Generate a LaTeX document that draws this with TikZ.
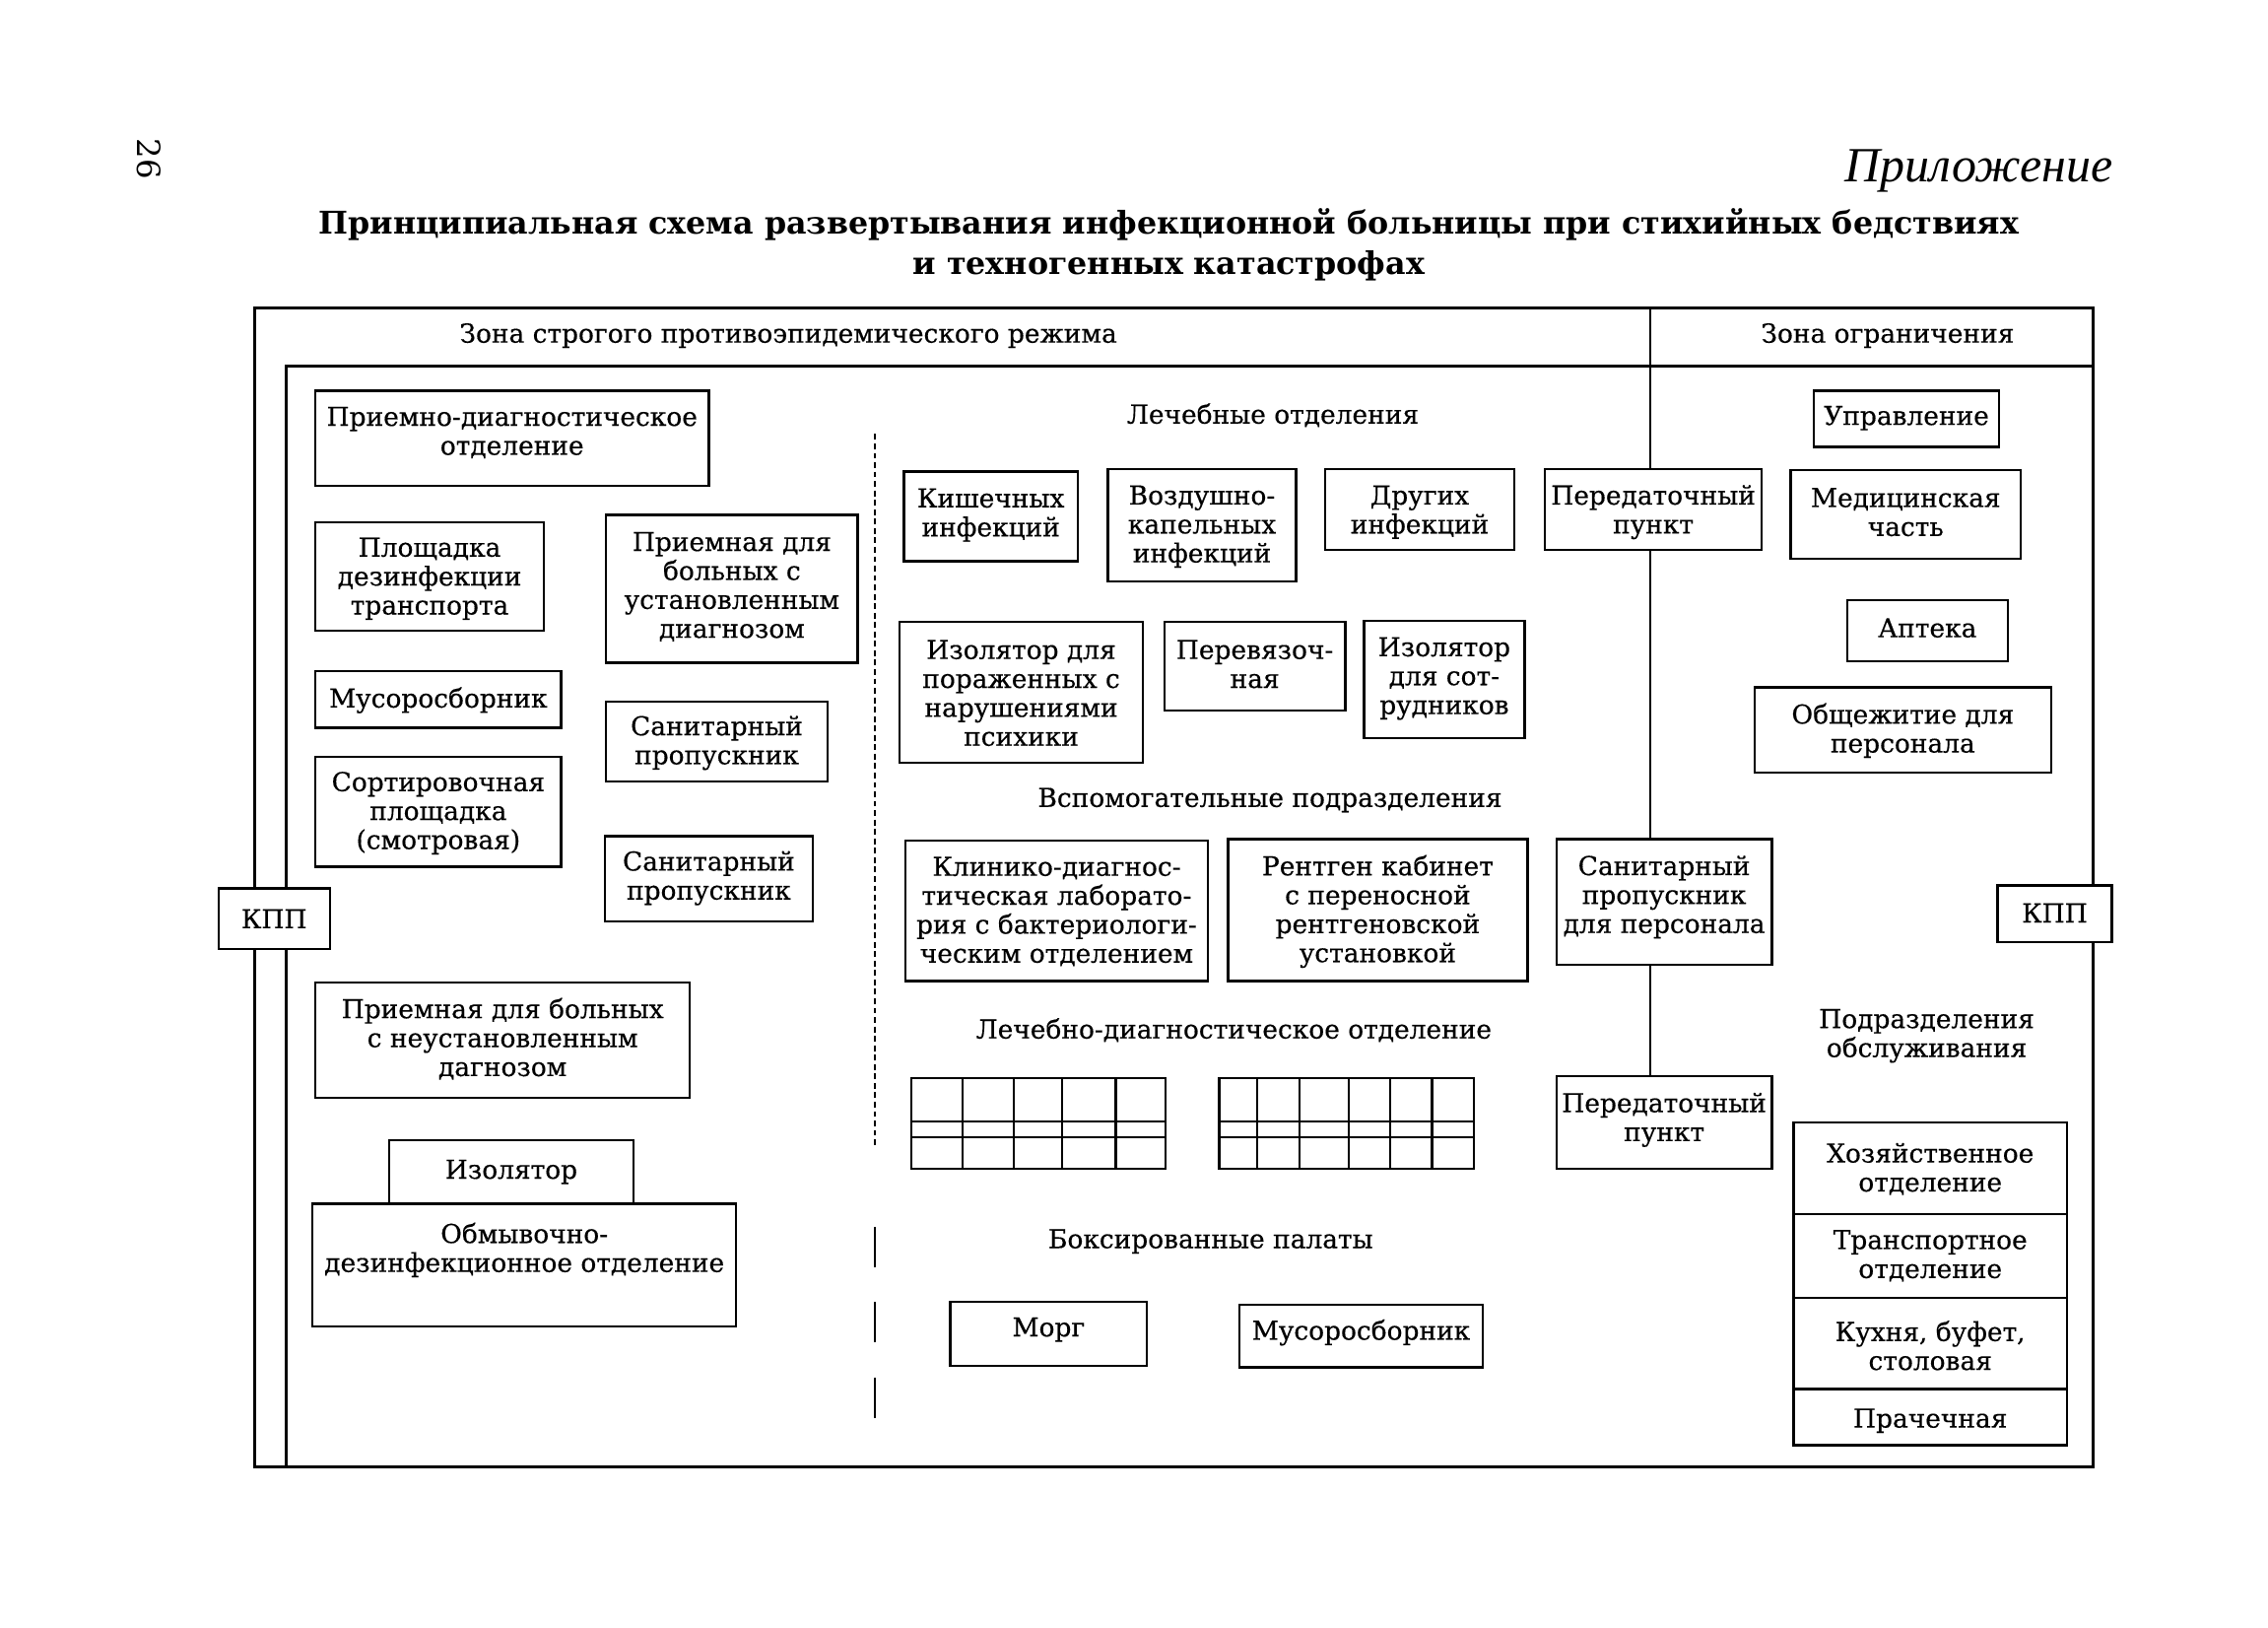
\documentclass[tikz,border=0pt]{standalone}
\usepackage{fontspec}
\setmainfont{DejaVu Serif}
\newfontfamily\wf[FakeBold=0.4]{DejaVu Serif}
\newfontfamily\tf{DejaVu Serif}
\newfontfamily\cf{Liberation Serif}
\tikzset{
  bx/.style={draw, line width=1.6pt, fill=white, inner sep=0pt, outer sep=0pt},
  wt/.style={font=\wf\fontsize{18}{20}\selectfont, align=center, inner sep=0pt},
  frameline/.style={line width=1.8pt},
  gridline/.style={line width=1.6pt},
}
% #1 name, #2 x1, #3 y1, #4 x2, #5 y2, #6 text centre y, #7 text style, #8 text
\newcommand\mybox[8]{%
  \node[bx, minimum width={#4pt-#2pt}, minimum height={#5pt-#3pt}] (#1) at ({(#2+#4)/2},{(#3+#5)/2}) {};
  \node[#7] (#1t) at ({(#2+#4)/2},#6) {#8};}
\begin{document}
\begin{tikzpicture}[x=1pt,y=-1pt]
\useasboundingbox[fill=white] (0,0) rectangle (1568,1125);

% page number, appendix label, title
\node[font=\tf\fontsize{22}{22}\selectfont, rotate=-90] (pnum) at (103,110) {26};
\node[font=\cf\itshape\fontsize{34}{34}\selectfont, anchor=east, inner sep=0pt] (appx) at (1461,118) {Приложение};
\node[font=\tf\bfseries\fontsize{21.6}{28}\selectfont, align=center, inner sep=0pt] (title) at (808,169)
  {Принципиальная схема развертывания инфекционной больницы при стихийных бедствиях\\и техногенных катастрофах};

% frames
\draw[frameline] (176,213) rectangle (1447,1014);
\draw[frameline] (198,1014) -- (198,253) -- (1447,253);
\coordinate (dv) at (1141,213);

% zone headers
\node[wt] (zone1) at (545,232) {Зона строгого противоэпидемического режима};
\node[wt] (zone2) at (1305,232) {Зона ограничения};

% dashed separator
\draw[line width=1.4pt, dash pattern=on 4pt off 2.5pt] (605,300) -- (605,792);
\draw[line width=1.6pt, dash pattern=on 28pt off 24pt] (605,848) -- (605,982);

% left column
\mybox{pdo}{218}{270}{490}{336}{299}{wt}{Приемно-диагностическое\\отделение}
\mybox{pdt}{218}{361}{376}{436}{400}{wt}{Площадка\\дезинфекции\\транспорта}
\mybox{pud}{419}{356}{593}{458}{405.5}{wt}{Приемная для\\больных с\\установленным\\диагнозом}
\mybox{mus1}{218}{464}{388}{503}{484}{wt}{Мусоросборник}
\mybox{san1}{419}{485}{572}{540}{513.5}{wt}{Санитарный\\пропускник}
\mybox{sort}{218}{523}{388}{599}{562}{wt}{Сортировочная\\площадка\\(смотровая)}
\mybox{san2}{418}{578}{562}{637}{607}{wt}{Санитарный\\пропускник}
\mybox{kppL}{151}{614}{228}{656}{635}{wt}{КПП}
\mybox{pnd}{218}{679}{477}{759}{718}{wt}{Приемная для больных\\с неустановленным\\дагнозом}
\mybox{odo}{216}{832}{509}{917}{864}{wt}{Обмывочно-\\дезинфекционное отделение}
\mybox{izol}{269}{788}{438}{832}{810}{wt}{Изолятор}

% centre
\node[wt] (lech) at (880,287) {Лечебные отделения};
\mybox{kish}{625}{326}{745}{388}{356}{wt}{Кишечных\\инфекций}
\mybox{vozd}{766}{324}{896}{402}{364}{wt}{Воздушно-\\капельных\\инфекций}
\mybox{drug}{916}{324}{1047}{380}{354}{wt}{Других\\инфекций}
\mybox{pp1}{1068}{324}{1218}{380}{354}{wt}{Передаточный\\пункт}
\mybox{ipsy}{622}{430}{790}{527}{479}{wt}{Изолятор для\\пораженных с\\нарушениями\\психики}
\mybox{perev}{805}{430}{930}{491}{459}{wt}{Перевязоч-\\ная}
\mybox{isotr}{943}{429}{1054}{510}{469}{wt}{Изолятор\\для сот-\\рудников}
\node[wt] (vspom) at (878,553) {Вспомогательные подразделения};
\mybox{klin}{626}{581}{835}{678}{630}{wt}{Клинико-диагнос-\\тическая лаборато-\\рия с бактериологи-\\ческим отделением}
\mybox{rent}{849}{580}{1056}{678}{630}{wt}{Рентген кабинет\\с переносной\\рентгеновской\\установкой}
\mybox{spp}{1076}{580}{1225}{667}{620}{wt}{Санитарный\\пропускник\\для персонала}
\node[wt] (ldo) at (853,712) {Лечебно-диагностическое отделение};
\mybox{pp2}{1076}{744}{1225}{808}{774}{wt}{Передаточный\\пункт}

% wards (grids)
\draw[gridline] (630,745) rectangle (806,808);
\foreach \x in {665.6,700.9,734.2,771.3} \draw[gridline] (\x,745) -- (\x,808);
\foreach \y in {775,786} \draw[gridline] (630,\y) -- (806,\y);
\draw[gridline] (843,745) rectangle (1019,808);
\foreach \x in {869.2,898.3,932.6,960.9,990} \draw[gridline] (\x,745) -- (\x,808);
\foreach \y in {775,786} \draw[gridline] (843,\y) -- (1019,\y);

\node[wt] (boks) at (837,858) {Боксированные палаты};
\mybox{morg}{657}{900}{793}{944}{919}{wt}{Морг}
\mybox{mus2}{857}{902}{1025}{945}{921}{wt}{Мусоросборник}

% divider between zones
\draw[frameline] (dv) -- (dv |- pp1.north);
\draw[frameline] (dv |- pp1.south) -- (dv |- spp.north);
\draw[frameline] (dv |- spp.south) -- (dv |- pp2.north);

% right zone
\mybox{upr}{1254}{270}{1382}{309}{289}{wt}{Управление}
\mybox{med}{1238}{325}{1397}{386}{354}{wt}{Медицинская\\часть}
\mybox{apt}{1277}{415}{1388}{457}{434}{wt}{Аптека}
\mybox{obsh}{1213}{475}{1418}{534}{505}{wt}{Общежитие для\\персонала}
\mybox{kppR}{1381}{612}{1460}{651}{631}{wt}{КПП}
\node[wt] (podr) at (1332,716) {Подразделения\\обслуживания};
\mybox{hoz}{1240}{776}{1429}{839}{808}{wt}{Хозяйственное\\отделение}
\mybox{tran}{1240}{839}{1429}{897}{868}{wt}{Транспортное\\отделение}
\mybox{kuh}{1240}{897}{1429}{960}{930}{wt}{Кухня, буфет,\\столовая}
\mybox{prach}{1240}{960}{1429}{999}{982}{wt}{Прачечная}
\end{tikzpicture}
\end{document}
